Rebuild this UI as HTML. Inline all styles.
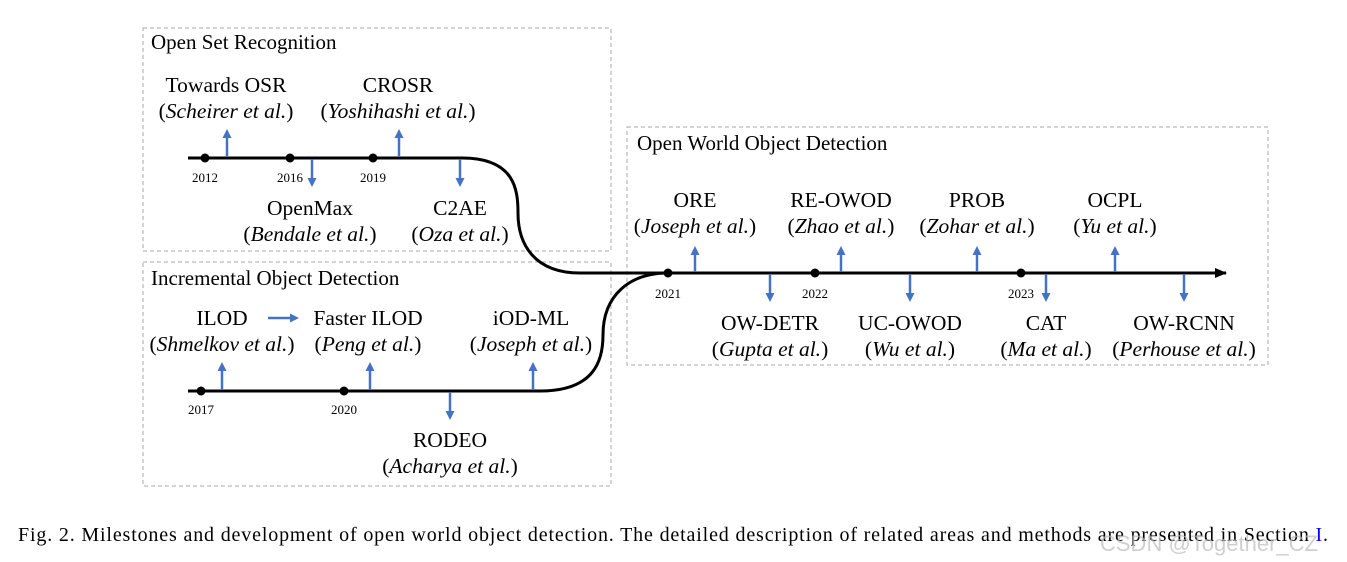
<!DOCTYPE html>
<html><head><meta charset="utf-8"><style>
body{margin:0;background:#fff;}
svg{display:block;font-family:"Liberation Serif",serif;}
</style></head><body>
<svg width="1347" height="562" viewBox="0 0 1347 562" xmlns="http://www.w3.org/2000/svg">
<defs>
<marker id="a" markerWidth="9" markerHeight="9" refX="5" refY="4.5" orient="auto" markerUnits="userSpaceOnUse"><path d="M0,0 L9,4.5 L0,9 z" fill="#4472C4"/></marker>
<marker id="b" markerWidth="12" markerHeight="10" refX="11" refY="5" orient="auto" markerUnits="userSpaceOnUse"><path d="M0,0 L12,5 L0,10 z" fill="#000"/></marker>
</defs>
<g fill="none" stroke="#aaa" stroke-dasharray="4,3" stroke-width="1">
<rect x="143" y="28" width="468" height="223"/>
<rect x="143" y="262" width="468" height="224"/>
<rect x="627" y="127" width="641" height="238"/>
</g>
<g fill="none" stroke="#000" stroke-width="3">
<path d="M188,158 L462,158 C515,158 518,190 518,213 C518,245 535,273 580,273 L1226,273" marker-end="url(#b)"/>
<path d="M188,391 L540,391 C595,391 603,360 603,335 C603,295 630,273 668,273"/>
</g>
<g fill="#000">
<circle cx="205" cy="158" r="4.5"/><circle cx="290" cy="158" r="4.5"/><circle cx="373" cy="158" r="4.5"/>
<circle cx="668" cy="273" r="4.5"/><circle cx="815" cy="273" r="4.5"/><circle cx="1021" cy="273" r="4.5"/>
<circle cx="201" cy="391" r="4.5"/><circle cx="344" cy="391" r="4.5"/>
</g>
<g stroke="#4472C4" stroke-width="2.5" fill="none">
<line x1="227" y1="157" x2="227" y2="133" marker-end="url(#a)"/>
<line x1="399" y1="157" x2="399" y2="133" marker-end="url(#a)"/>
<line x1="312" y1="159" x2="312" y2="183" marker-end="url(#a)"/>
<line x1="460" y1="159" x2="460" y2="183" marker-end="url(#a)"/>
<line x1="695" y1="272" x2="695" y2="250" marker-end="url(#a)"/>
<line x1="841" y1="272" x2="841" y2="250" marker-end="url(#a)"/>
<line x1="977" y1="272" x2="977" y2="250" marker-end="url(#a)"/>
<line x1="1115" y1="272" x2="1115" y2="250" marker-end="url(#a)"/>
<line x1="770" y1="274" x2="770" y2="298" marker-end="url(#a)"/>
<line x1="910" y1="274" x2="910" y2="298" marker-end="url(#a)"/>
<line x1="1046" y1="274" x2="1046" y2="298" marker-end="url(#a)"/>
<line x1="1184" y1="274" x2="1184" y2="298" marker-end="url(#a)"/>
<line x1="222" y1="390" x2="222" y2="366" marker-end="url(#a)"/>
<line x1="370" y1="390" x2="370" y2="366" marker-end="url(#a)"/>
<line x1="533" y1="390" x2="533" y2="366" marker-end="url(#a)"/>
<line x1="450" y1="392" x2="450" y2="416" marker-end="url(#a)"/>
<line x1="268" y1="318" x2="295" y2="318" marker-end="url(#a)"/>
</g>
<g font-size="13" text-anchor="middle" fill="#000">
<text x="205" y="182">2012</text><text x="290" y="182">2016</text><text x="373" y="182">2019</text>
<text x="668" y="298">2021</text><text x="815" y="298">2022</text><text x="1021" y="298">2023</text>
<text x="201" y="414">2017</text><text x="344" y="414">2020</text>
</g>
<g font-size="21" fill="#000">
<text x="151" y="49">Open Set Recognition</text>
<text x="151" y="285">Incremental Object Detection</text>
<text x="637" y="150">Open World Object Detection</text>
</g>
<g font-size="21.5" text-anchor="middle" fill="#000">
<text x="226" y="92">Towards OSR</text><text x="226" y="118">(<tspan font-style="italic">Scheirer et al.</tspan>)</text>
<text x="398" y="92">CROSR</text><text x="398" y="118">(<tspan font-style="italic">Yoshihashi et al.</tspan>)</text>
<text x="310" y="215">OpenMax</text><text x="310" y="241">(<tspan font-style="italic">Bendale et al.</tspan>)</text>
<text x="460" y="215">C2AE</text><text x="460" y="241">(<tspan font-style="italic">Oza et al.</tspan>)</text>
<text x="695" y="207">ORE</text><text x="695" y="233">(<tspan font-style="italic">Joseph et al.</tspan>)</text>
<text x="841" y="207">RE-OWOD</text><text x="841" y="233">(<tspan font-style="italic">Zhao et al.</tspan>)</text>
<text x="977" y="207">PROB</text><text x="977" y="233">(<tspan font-style="italic">Zohar et al.</tspan>)</text>
<text x="1115" y="207">OCPL</text><text x="1115" y="233">(<tspan font-style="italic">Yu et al.</tspan>)</text>
<text x="770" y="330">OW-DETR</text><text x="770" y="356">(<tspan font-style="italic">Gupta et al.</tspan>)</text>
<text x="910" y="330">UC-OWOD</text><text x="910" y="356">(<tspan font-style="italic">Wu et al.</tspan>)</text>
<text x="1046" y="330">CAT</text><text x="1046" y="356">(<tspan font-style="italic">Ma et al.</tspan>)</text>
<text x="1184" y="330">OW-RCNN</text><text x="1184" y="356">(<tspan font-style="italic">Perhouse et al.</tspan>)</text>
<text x="222" y="325">ILOD</text><text x="222" y="351">(<tspan font-style="italic">Shmelkov et al.</tspan>)</text>
<text x="368" y="325">Faster ILOD</text><text x="368" y="351">(<tspan font-style="italic">Peng et al.</tspan>)</text>
<text x="531" y="325">iOD-ML</text><text x="531" y="351">(<tspan font-style="italic">Joseph et al.</tspan>)</text>
<text x="450" y="447">RODEO</text><text x="450" y="473">(<tspan font-style="italic">Acharya et al.</tspan>)</text>
</g>
<text x="18" y="541" font-size="20" fill="#000" textLength="1310" lengthAdjust="spacing">Fig. 2.  Milestones and development of open world object detection. The detailed description of related areas and methods are presented in Section <tspan fill="#00f">I</tspan>.</text>
<text x="1100" y="551" font-family="Liberation Sans,sans-serif" font-size="22" fill="#bbb" fill-opacity="0.7">CSDN @Together_CZ</text>
</svg>
</body></html>
